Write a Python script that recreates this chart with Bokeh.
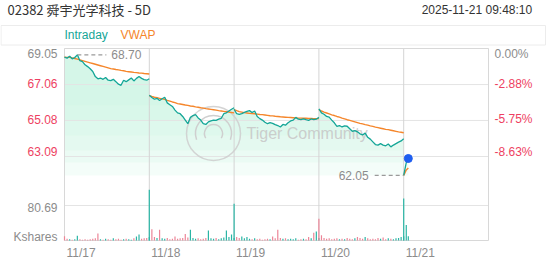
import numpy as np
from bokeh.plotting import figure
from bokeh.models import Range1d
from bokeh.core.properties import value
from bokeh.embed import file_html
from bokeh.resources import INLINE

# ---------------- data ----------------
title_text = "02382 舜宇光学科技 - 5D"
timestamp = "2025-11-21  09:48:10"
legend_labels = ["Intraday", "VWAP"]
day_labels = ["11/17", "11/18", "11/19", "11/20", "11/21"]
price_ticks = [69.05, 67.06, 65.08, 63.09]
pct_labels = ["0.00%", "-2.88%", "-5.75%", "-8.63%"]
vol_tick = 80.69
vol_unit = "Kshares"
watermark = "Tiger Community"

minutes_per_day = 330
sample_step = 10
minutes_d5 = [0, 10, 18]

price_d1 = [68.57, 68.52, 68.62, 68.48, 68.55, 68.70, 68.38, 68.33, 68.15, 68.05, 67.93, 67.78,
            67.50, 67.38, 67.42, 67.35, 67.45, 67.30, 67.28, 67.35, 67.22, 67.08, 67.02, 67.30,
            67.22, 67.32, 67.42, 67.26, 67.40, 67.50, 67.40, 67.33, 67.30, 67.38]
price_d2 = [66.47, 66.35, 66.25, 66.30, 66.18, 66.28, 66.36, 66.05, 65.95, 65.85, 65.65, 65.50,
            65.45, 65.30, 65.10, 64.90, 65.25, 65.35, 65.40, 65.22, 65.10, 64.90, 64.86, 65.00,
            65.05, 65.10, 65.08, 65.15, 65.20, 65.45, 65.50, 65.60, 65.70, 65.78]
price_d3 = [65.70, 65.45, 65.42, 65.46, 65.52, 65.58, 65.62, 65.52, 65.60, 65.30, 65.18, 65.10,
            64.98, 64.90, 64.96, 64.92, 64.85, 64.80, 64.72, 64.86, 64.82, 64.95, 65.05, 65.10,
            65.25, 65.15, 65.12, 65.17, 65.12, 65.08, 65.16, 65.12, 65.15, 65.25]
price_d4 = [65.72, 65.50, 65.42, 65.30, 65.26, 65.10, 64.95, 64.75, 64.80, 64.72, 64.78, 64.76,
            64.62, 64.48, 64.52, 64.45, 64.34, 64.28, 64.38, 64.15, 64.05, 63.90, 63.75, 63.72,
            63.80, 63.72, 63.68, 63.78, 63.62, 63.72, 63.80, 63.88, 63.95, 64.07]
price_d5 = [62.05, 62.75, 62.98]

vwap_d1 = [68.57, 68.56, 68.56, 68.53, 68.50, 68.46, 68.42, 68.38, 68.34, 68.30, 68.26, 68.22,
           68.18, 68.14, 68.10, 68.06, 68.02, 67.98, 67.94, 67.92, 67.89, 67.87, 67.84, 67.82,
           67.79, 67.77, 67.75, 67.73, 67.72, 67.70, 67.69, 67.67, 67.66, 67.64]
vwap_d2 = [66.45, 66.40, 66.36, 66.33, 66.30, 66.27, 66.24, 66.19, 66.15, 66.10, 66.06, 66.01,
           65.99, 65.96, 65.93, 65.91, 65.88, 65.86, 65.83, 65.81, 65.78, 65.76, 65.73, 65.71,
           65.69, 65.67, 65.65, 65.62, 65.60, 65.58, 65.56, 65.54, 65.52, 65.50]
vwap_d3 = [65.68, 65.62, 65.57, 65.54, 65.51, 65.49, 65.47, 65.46, 65.45, 65.43, 65.41, 65.40,
           65.38, 65.36, 65.34, 65.33, 65.31, 65.30, 65.28, 65.27, 65.26, 65.25, 65.24, 65.23,
           65.22, 65.21, 65.21, 65.20, 65.20, 65.19, 65.19, 65.18, 65.18, 65.18]
vwap_d4 = [65.68, 65.60, 65.54, 65.49, 65.44, 65.39, 65.35, 65.30, 65.26, 65.21, 65.17, 65.12,
           65.08, 65.04, 65.00, 64.96, 64.92, 64.89, 64.85, 64.82, 64.78, 64.75, 64.71, 64.68,
           64.65, 64.62, 64.59, 64.57, 64.54, 64.51, 64.48, 64.45, 64.43, 64.40]
vwap_d5 = [62.05, 62.35, 62.46]

vol_d1 = [10, 4, 3, 2, 3, 11, 3, 2, 3, 2, 3, 4, 5, 16, 3, 2, 4, 3, 2, 5, 3, 4, 2, 3, 4, 3, 2, 5,
          9, 14, 4, 5, 6, 8]
vol_d2 = [117, 26, 8, 6, 25, 5, 4, 6, 3, 4, 9, 4, 5, 6, 15, 7, 25, 6, 4, 5, 3, 4, 6, 23, 5, 4,
          6, 3, 5, 7, 23, 8, 14, 6]
vol_d3 = [85, 8, 6, 9, 5, 8, 4, 3, 5, 3, 4, 2, 3, 4, 3, 9, 5, 25, 6, 4, 5, 3, 4, 3, 5, 2, 3, 4,
          3, 8, 5, 18, 21, 6]
vol_d4 = [50, 12, 6, 4, 5, 3, 4, 5, 3, 4, 3, 6, 4, 3, 5, 8, 6, 4, 8, 5, 3, 4, 3, 6, 4, 7, 3, 5,
          4, 3, 5, 6, 8, 10]
vol_d5 = [97, 36, 10]
open_up = [False, True, True, False, True]

# ---------------- layout (pixels) ----------------
W, H = 552, 265
FL, FR, FT, FB = 64, 488, 48, 240      # plot frame
GRID_GAP = 36                           # px between price gridlines
VOL_GRID_PX = 205

n_days = len(day_labels)
px_per_min = (FR - FL) / (n_days * minutes_per_day)
price_per_px = (price_ticks[0] - price_ticks[-1]) / (GRID_GAP * (len(price_ticks) - 1))
vol_per_px = vol_tick / (FB - VOL_GRID_PX)

def xpx(px):
    return (px - FL) / px_per_min

def ypx(py):
    return price_ticks[0] - (py - FT) * price_per_px

def vpx(py):
    return (FB - py) * vol_per_px

def dx(px):
    return px / px_per_min

TEAL = "#14a697"
ORANGE = "#f5862b"
VOL_UP = "#2ab5a5"
VOL_DN = "#ec8597"
RED = "#ee3f62"
GRAY = "#8c8c8c"
DARK = "#333333"
FONT = value("Liberation Sans")

p = figure(width=W, height=H, output_backend="svg", toolbar_location=None,
           x_range=Range1d(xpx(0), xpx(W)), y_range=Range1d(ypx(H), ypx(0)),
           min_border=0, x_axis_location=None, y_axis_location=None)
p.extra_y_ranges = {"vol": Range1d(vpx(H), vpx(0))}
p.grid.visible = False
p.outline_line_color = None
p.background_fill_color = "white"
p.border_fill_color = "white"

prices = [price_d1, price_d2, price_d3, price_d4, price_d5]
vwaps = [vwap_d1, vwap_d2, vwap_d3, vwap_d4, vwap_d5]
vols = [vol_d1, vol_d2, vol_d3, vol_d4, vol_d5]
xs = []
for d in range(n_days):
    if d < n_days - 1:
        mins = np.arange(len(prices[d])) * sample_step
    else:
        mins = np.array(minutes_d5)
    xs.append(d * minutes_per_day + mins)

# legend band
p.quad(left=xpx(0.5), right=xpx(545), top=ypx(25), bottom=ypx(44.5),
       fill_color=None, line_color="#ececec", line_width=1)

# gradient-like fill under intraday line
fill_levels = [105, 120, 135, 150, 162, 175]
for d in range(n_days):
    pr = np.array(prices[d], dtype=float)
    for lv in fill_levels:
        y2 = np.minimum(pr, ypx(lv))
        p.varea(x=xs[d], y1=pr, y2=y2, fill_color="#c8f3df", fill_alpha=0.2)

# grid and frame
x_end = n_days * minutes_per_day
p.segment(x0=[0] * len(price_ticks), x1=[x_end] * len(price_ticks),
          y0=price_ticks, y1=price_ticks, line_color="#e4e4e4", line_width=1)
p.segment(x0=[0], x1=[x_end], y0=[vol_tick], y1=[vol_tick], y_range_name="vol",
          line_color="#e4e4e4", line_width=1)
day_starts = [d * minutes_per_day for d in range(1, n_days)]
p.segment(x0=day_starts, x1=day_starts, y0=[ypx(FT)] * len(day_starts),
          y1=[ypx(FB)] * len(day_starts), line_color="#d4d4d4", line_width=1)
p.quad(left=0, right=x_end, top=ypx(FT), bottom=ypx(FB), fill_color=None,
       line_color="#d8d8d8", line_width=1)

# watermark
wx, wy = xpx(213), ypx(133)
p.scatter(x=[wx], y=[wy], size=54, marker="circle", fill_color=None,
          line_color="#cfcfcf", line_width=1.5, line_alpha=0.9)
p.arc(x=[wx], y=[wy], radius=18, radius_units="screen", start_angle=np.radians(200),
      end_angle=np.radians(340), direction="clock", line_color="#cfcfcf", line_width=1.5)
p.arc(x=[wx], y=[wy], radius=9, radius_units="screen", start_angle=np.radians(210),
      end_angle=np.radians(330), direction="clock", line_color="#cfcfcf", line_width=1.5)
p.text(x=[xpx(246)], y=[ypx(133)], text=[watermark], text_font=FONT, text_font_size="16px",
       text_color="#c8c8c8", text_alpha=0.9, text_baseline="middle", text_align="left")

# volume bars
vx, vv, vc = [], [], []
for d in range(n_days):
    pr = prices[d]
    for i, v in enumerate(vols[d]):
        up = open_up[d] if i == 0 else pr[i] >= pr[i - 1]
        vx.append(xs[d][i]); vv.append(v); vc.append(VOL_UP if up else VOL_DN)
p.vbar(x=vx, top=vv, bottom=0, width=dx(1.2), y_range_name="vol",
       fill_color=vc, line_color=None)

# VWAP and intraday lines
p.multi_line(xs=[list(x) for x in xs], ys=vwaps, line_color=ORANGE, line_width=1.4)
p.multi_line(xs=[list(x) for x in xs], ys=prices, line_color=TEAL, line_width=1.3)

# last point
p.scatter(x=[xs[-1][-1]], y=[price_d5[-1]], size=8, marker="circle",
          fill_color="#1f5ef0", line_color="#1f5ef0")

# high / low markers
all_p = np.concatenate([np.array(pp) for pp in prices])
all_x = np.concatenate(xs)
hi_i, lo_i = int(np.argmax(all_p)), int(np.argmin(all_p))
hx, hy = all_x[hi_i], all_p[hi_i]
lx, ly = all_x[lo_i], all_p[lo_i]
p.segment(x0=[hx], x1=[hx + dx(29)], y0=[hy], y1=[hy], line_color="#9a9a9a",
          line_width=1.2, line_dash="4 3")
p.text(x=[hx + dx(34)], y=[hy], text=["%.2f" % hy], text_font=FONT, text_font_size="12px",
       text_color=GRAY, text_align="left", text_baseline="middle")
p.segment(x0=[lx - dx(29)], x1=[lx], y0=[ly], y1=[ly], line_color="#9a9a9a",
          line_width=1.2, line_dash="4 3")
p.text(x=[lx - dx(35)], y=[ly], text=["%.2f" % ly], text_font=FONT, text_font_size="12px",
       text_color=GRAY, text_align="right", text_baseline="middle")

# axis labels
tick_colors = [GRAY] + [RED] * (len(price_ticks) - 1)
tick_offsets = [5] + [-1] * (len(price_ticks) - 2) + [-5]
p.text(x=[xpx(57)] * len(price_ticks), y=price_ticks,
       text=["%.2f" % t for t in price_ticks], text_font=FONT, text_font_size="12px",
       text_color=tick_colors, y_offset=tick_offsets, text_align="right", text_baseline="middle")
p.text(x=[xpx(494)] * len(price_ticks), y=price_ticks, text=pct_labels, text_font=FONT,
       text_font_size="12px", text_color=tick_colors, y_offset=tick_offsets,
       text_align="left", text_baseline="middle")
p.text(x=[xpx(57)], y=[vol_tick], text=["%.2f" % vol_tick], y_range_name="vol", text_font=FONT,
       text_font_size="12px", text_color=GRAY, y_offset=2, text_align="right",
       text_baseline="middle")
p.text(x=[xpx(57)], y=[0], text=[vol_unit], y_range_name="vol", text_font=FONT,
       text_font_size="12px", text_color=GRAY, y_offset=-4, text_align="right",
       text_baseline="middle")
p.text(x=[d * minutes_per_day + dx(2) for d in range(n_days)], y=[ypx(252)] * n_days,
       text=day_labels, text_font=FONT, text_font_size="12px", text_color=GRAY,
       text_align="left", text_baseline="middle")

# header
p.text(x=[xpx(7)], y=[ypx(9)], text=[title_text], text_font=value("Noto Sans CJK SC"),
       text_font_size="13px", text_color=DARK, text_align="left", text_baseline="middle")
p.text(x=[xpx(535)], y=[ypx(9)], text=[timestamp], text_font=FONT, text_font_size="12px",
       text_color=DARK, text_align="right", text_baseline="middle")
p.text(x=[xpx(64), xpx(120)], y=[ypx(34.5)] * 2, text=legend_labels, text_font=FONT,
       text_font_size="12px", text_color=[TEAL, ORANGE], text_align="left",
       text_baseline="middle")

open("out.html", "w").write(file_html(p, INLINE))
